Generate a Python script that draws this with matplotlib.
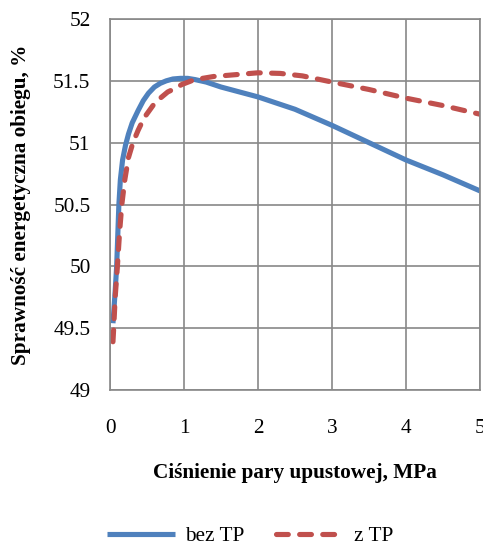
import matplotlib
matplotlib.use("Agg")
import matplotlib.pyplot as plt

# pressure of extraction steam, MPa / cycle efficiency, %
x_bez = [0.04, 0.07, 0.09, 0.12, 0.14, 0.17, 0.21, 0.25, 0.30, 0.38, 0.45, 0.52, 0.60,
         0.68, 0.76, 0.85, 0.95, 1.05, 1.15, 1.3, 1.5, 1.75, 2.0, 2.5, 3.0, 3.5, 4.0, 4.5, 5.0]
y_bez = [49.54, 49.8, 50.0, 50.5, 50.7, 50.86, 50.98, 51.07, 51.16, 51.26, 51.34, 51.40, 51.45,
         51.48, 51.50, 51.515, 51.52, 51.52, 51.51, 51.49, 51.45, 51.41, 51.37, 51.27, 51.14,
         51.0, 50.86, 50.74, 50.61]

x_ztp = [0.04, 0.05, 0.07, 0.10, 0.13, 0.16, 0.2, 0.25, 0.31, 0.38, 0.46, 0.52, 0.58, 0.64,
         0.70, 0.78, 0.85, 0.97, 1.1, 1.25, 1.4, 1.7, 2.0, 2.3, 2.6, 3.0, 3.5, 4.0, 4.5, 5.0]
y_ztp = [49.39, 49.5, 49.75, 50.0, 50.28, 50.5, 50.7, 50.88, 51.0, 51.1, 51.2, 51.25, 51.3,
         51.34, 51.37, 51.41, 51.43, 51.47, 51.50, 51.52, 51.535, 51.55, 51.565, 51.56,
         51.54, 51.49, 51.43, 51.36, 51.30, 51.23]

x_ticks = [0, 1, 2, 3, 4, 5]
y_ticks = [49, 49.5, 50, 50.5, 51, 51.5, 52]
y_labels = ["49", "49.5", "50", "50.5", "51", "51.5", "52"]

plt.rcParams['font.family'] = ['Liberation Serif', 'DejaVu Serif']
fs = 15.3

fig = plt.figure(figsize=(4.83, 5.44), dpi=100)
ax = fig.add_axes([110 / 483, 1 - 390 / 544, 370 / 483, 371 / 544])

grid_c = '#888888'
ax.plot(x_bez, y_bez, color='#4F81BD', lw=3.7, label='bez TP', solid_capstyle='butt')
ax.plot(x_ztp, y_ztp, color='#C0504D', lw=3.7, dashes=(2.3, 2.2), dash_capstyle='round',
        label='z TP')

ax.set_xlim(0, 5)
ax.set_ylim(49, 52)
ax.set_xticks(x_ticks)
ax.set_yticks(y_ticks)
ax.set_yticklabels(y_labels)
ax.grid(True, color=grid_c, lw=1.2)
ax.set_axisbelow(True)
for s in ax.spines.values():
    s.set_color(grid_c)
    s.set_linewidth(1.2)
ax.tick_params(length=0, labelsize=fs)
ax.tick_params(axis='x', pad=21)
ax.tick_params(axis='y', pad=14)

ax.set_xlabel('Ciśnienie pary upustowej, MPa', fontsize=fs, fontweight='bold', labelpad=18)
ax.set_ylabel('Sprawność energetyczna obiegu, %', fontsize=fs, fontweight='bold', labelpad=16)

fig.legend(loc='center', bbox_to_anchor=(250 / 483, 1 - 536 / 544), ncol=2, frameon=False,
           fontsize=fs, handlelength=3.2, columnspacing=1.5, handletextpad=0.45,
           borderpad=0.2)

fig.savefig('out.png', dpi=100)
